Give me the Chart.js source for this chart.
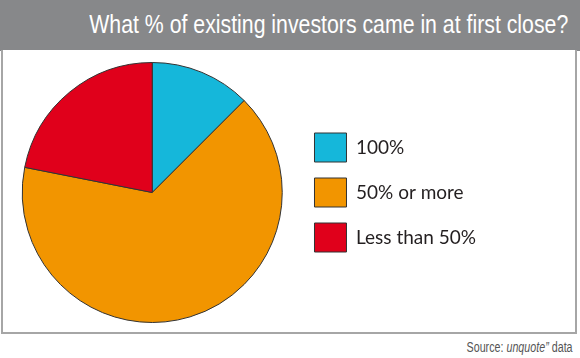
<!DOCTYPE html>
<html>
<head>
<meta charset="utf-8">
<script src="https://cdn.jsdelivr.net/npm/chart.js@4"></script>
<style>
  html, body { margin: 0; padding: 0; background: #fff; }
  #wrap { position: relative; width: 580px; height: 358px; overflow: hidden; }
  #header {
    position: absolute; left: 0; top: 0; width: 580px; height: 51px;
    background: #87888a;
  }
  .narrow {
    position: absolute; white-space: nowrap;
    font-family: "Liberation Sans", Arial, sans-serif;
    transform-origin: right top;
  }
  #title { right: 12px; top: 9px; font-size: 26px; color: #fff; }
  #box {
    position: absolute; left: 1px; top: 50px; width: 572px; height: 282px;
    border: 2px solid #a6a6a6; border-top: none; background: #fff;
  }
  #chart-holder { position: absolute; left: 0; top: 0; width: 572px; height: 282px; }
  #source { right: 7px; top: 339px; font-size: 14px; color: #555; }
</style>
</head>
<body>
<div id="wrap">
  <div id="header"><div id="title" class="narrow">What % of existing investors came in at first close?</div></div>
  <div id="box"><div id="chart-holder"><canvas id="pie-chart"></canvas></div></div>
  <div id="source" class="narrow">Source: <i>unquote”</i> data</div>
</div>
<script>
// squeeze the header/source text into a condensed look
function squeeze(id, targetWidth) {
  var el = document.getElementById(id);
  var w = el.getBoundingClientRect().width;
  el.style.transform = "scaleX(" + (targetWidth / w) + ")";
}
squeeze("title", 479);
squeeze("source", 106);

var ctx = document.getElementById("pie-chart").getContext("2d");

// Define the data
var labels = ["100%", "50% or more", "Less than 50%"]; // legend labels
var shareValues = [12.5, 65.6, 21.9]; // share of investors, %
var sliceColors = ["#15b7da", "#f29500", "#e0001b"];
// End Defining data

var myChart = new Chart(ctx, {
  type: "pie",
  data: {
    labels: labels,
    datasets: [
      {
        label: "Existing investors",
        data: shareValues,
        backgroundColor: sliceColors,
        borderColor: "#333333",
        borderWidth: 1
      }
    ]
  },
  options: {
    responsive: true,
    maintainAspectRatio: false,
    animation: false,
    layout: { padding: { left: 3, top: 12, bottom: 9, right: 89 } },
    plugins: {
      legend: {
        position: "right",
        labels: {
          boxWidth: 32,
          boxHeight: 29,
          padding: 16,
          color: "#231f20",
          font: { family: "Lato, 'Open Sans', sans-serif", size: 19 }
        }
      },
      tooltip: { enabled: false }
    }
  }
});
</script>
</body>
</html>
